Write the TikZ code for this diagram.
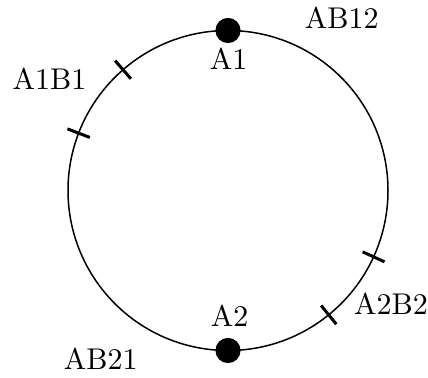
\documentclass[tikz,border=0pt]{standalone}
\usetikzlibrary{calc}
\begin{document}
\begin{tikzpicture}[x=0.5pt,y=-0.5pt,
  lbl/.style={anchor=base,inner sep=0pt,scale=1.5,font=\fontsize{10}{12}\selectfont},
  dot/.style={circle,fill=black,inner sep=0pt,minimum size=12.6pt},
  tick/.style={line width=1.5pt},
  ring/.style={line width=0.75pt}]
\useasboundingbox (0,0) rectangle (428,378);
\coordinate (c) at (228,190.5);
\draw[ring] (c) circle [radius=80pt];
\node[dot] (d1) at ($(c)+(-90:160)$) {};
\node[dot] (d2) at ($(c)+(90:160)$) {};
\foreach \a/\n in {131/t1,159/t2,-24.5/t3,-51/t4}{
  \coordinate (\n i) at ($(c)+(-\a:148)$);
  \coordinate (\n o) at ($(c)+(-\a:172)$);
  \draw[tick] (\n i) -- (\n o);
}
\node[lbl] (AB12) at (341.7,28.3) {AB12};
\node[lbl] (A1B1) at (49.5,89.3) {A1B1};
\node[lbl] (A1) at (228.5,70) {A1};
\node[lbl] (A2) at (229.5,326.7) {A2};
\node[lbl] (A2B2) at (391,315) {A2B2};
\node[lbl] (AB21) at (100.8,370) {AB21};
\end{tikzpicture}
\end{document}
